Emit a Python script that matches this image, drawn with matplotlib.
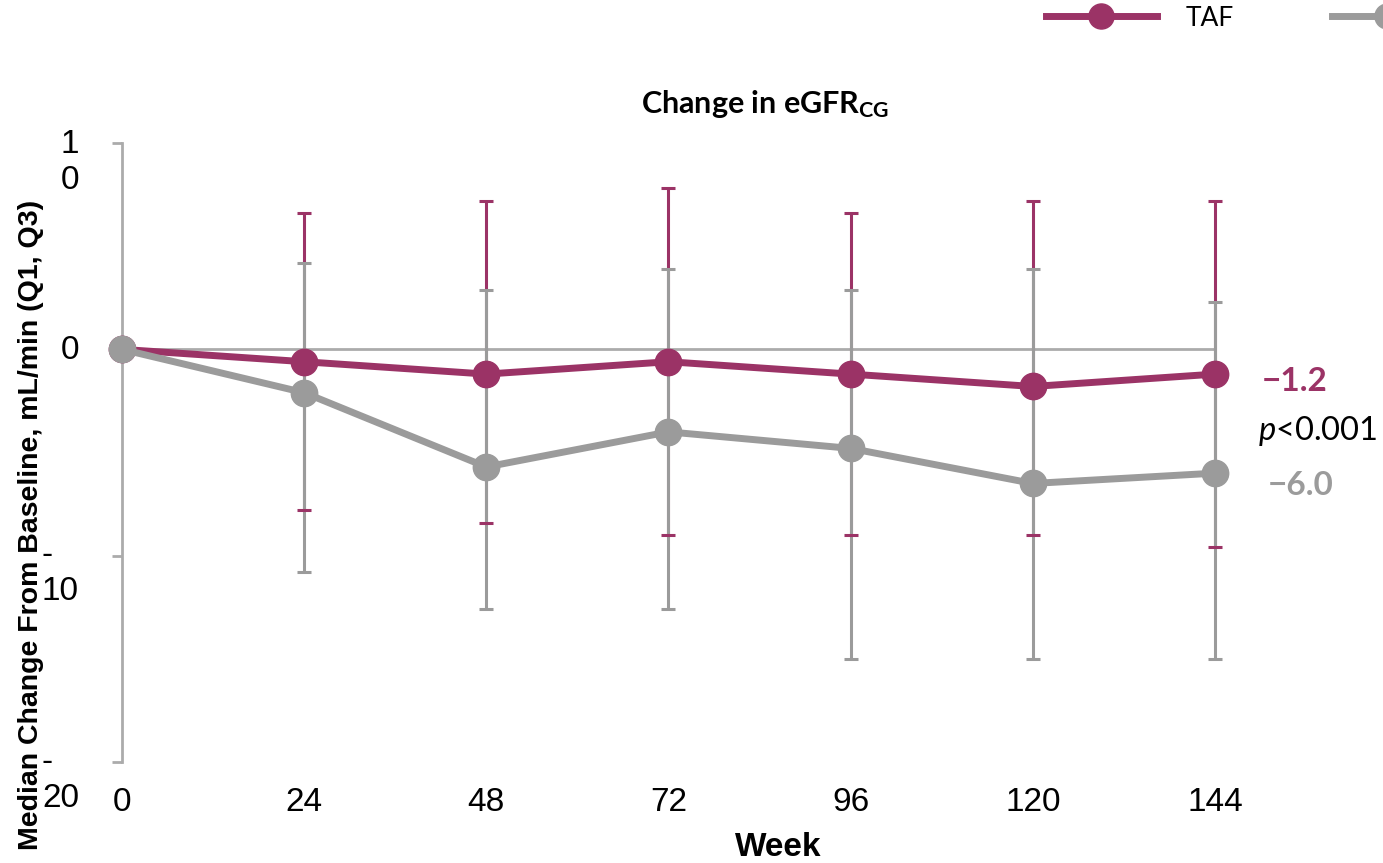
import numpy as np
import matplotlib.pyplot as plt

plt.rcParams['font.family'] = ['Liberation Sans', 'DejaVu Sans']
plt.rcParams['mathtext.fontset'] = 'custom'
plt.rcParams['mathtext.rm'] = 'Lato'
plt.rcParams['mathtext.bf'] = 'Lato:bold'
plt.rcParams['mathtext.it'] = 'Lato:italic'

weeks = [0, 24, 48, 72, 96, 120, 144]

# median change from baseline with Q1/Q3
taf_med = [0, -0.6, -1.2, -0.6, -1.2, -1.8, -1.2]
taf_q1 = [0, -7.8, -8.4, -9.0, -9.0, -9.0, -9.6]
taf_q3 = [0, 6.6, 7.2, 7.8, 6.6, 7.2, 7.2]

tdf_med = [0, -2.1, -5.7, -4.0, -4.8, -6.5, -6.0]
tdf_q1 = [0, -10.8, -12.6, -12.6, -15.0, -15.0, -15.0]
tdf_q3 = [0, 4.2, 2.9, 3.9, 2.9, 3.9, 2.3]

yticks = [-20, -10, 0, 10]
ytick_labels = ['-\n20', '-\n10', '0', '1\n0']

taf_col = '#9b3366'
tdf_col = '#9b9b9b'
axis_col = '#ababab'

fig = plt.figure(figsize=(13.83, 8.63), dpi=100)
ax = fig.add_axes([0.0882, 0.1170, 0.7903, 0.7173])

ax.axhline(0, color=axis_col, lw=2, zorder=1)

def draw(x, med, q1, q3, col, name, z):
    med = np.array(med)
    err = [med - np.array(q1), np.array(q3) - med]
    idx = slice(1, None)
    eb = ax.errorbar(np.array(x)[idx], med[idx],
                     yerr=[err[0][idx], err[1][idx]],
                     fmt='none', ecolor=col, elinewidth=2.2,
                     capsize=4.8, capthick=2.2, zorder=z)
    for c in eb[1]:
        c.set_zorder(z + 2)
        c.set_clip_on(False)
    for b in eb[2]:
        b.set_clip_on(False)
    line, = ax.plot(x, med, color=col, lw=5, marker='o', markersize=19,
                    label=name, zorder=z + 5, clip_on=False)
    return line

l1 = draw(weeks, taf_med, taf_q1, taf_q3, taf_col, 'TAF', 2)
l2 = draw(weeks, tdf_med, tdf_q1, tdf_q3, tdf_col, 'TDF', 3)

ax.set_xlim(0, 144)
ax.set_ylim(-20, 10)

for s in ['top', 'right', 'bottom']:
    ax.spines[s].set_visible(False)
ax.spines['left'].set_color(axis_col)
ax.spines['left'].set_linewidth(2)

ax.set_xticks(weeks)
ax.set_xticklabels([str(w) for w in weeks], fontsize=24)
ax.tick_params(axis='x', length=0, pad=18)

ax.set_yticks(yticks)
ax.set_yticklabels([])
ax.tick_params(axis='y', length=7, width=2, color=axis_col)
for v, lab in zip(yticks, ytick_labels):
    dy = 11 if lab.startswith('-') else 10
    ax.annotate(lab, xy=(0, v), xycoords=('axes fraction', 'data'),
                xytext=(-31, dy), textcoords='offset points',
                ha='right', va='top', multialignment='left',
                fontsize=24, linespacing=1.2)

fig.text(0.0225, 1 - 525 / 863, 'Median Change From Baseline, mL/min (Q1, Q3)',
         rotation=90, ha='center', va='center', fontsize=20.5, fontweight='bold')
fig.text(778 / 1383, 1 - 847 / 863, 'Week', ha='center', va='center',
         fontsize=24, fontweight='bold')
fig.text(765 / 1383, 1 - 104 / 863, r'Change in eGFR$_\mathbf{CG}$',
         ha='center', va='center', fontsize=22, fontweight='bold',
         family='Lato')

# end-of-study values
ax.annotate('\u22121.2', xy=(weeks[-1], taf_med[-1]), xytext=(34, -5),
            textcoords='offset points', ha='left', va='center',
            fontsize=24, fontweight='bold', color=taf_col, family='Lato')
ax.annotate(r'$\mathit{p}$<0.001', xy=(weeks[-1], (taf_med[-1] + tdf_med[-1]) / 2),
            xytext=(31, -5), textcoords='offset points', ha='left', va='center',
            fontsize=23.5, family='Lato')
ax.annotate('\u22126.0', xy=(weeks[-1], tdf_med[-1]), xytext=(38, -9),
            textcoords='offset points', ha='left', va='center',
            fontsize=24, fontweight='bold', color=tdf_col, family='Lato')

leg = ax.legend(handles=[l1, l2], loc='center left', ncol=2, frameon=False,
                bbox_to_anchor=(1046 / 1383, 1 - 18 / 863),
                bbox_transform=fig.transFigure, borderpad=0, borderaxespad=0,
                handlelength=4.2, handletextpad=1.1, columnspacing=3.7,
                markerscale=0.95, prop={'family': 'Lato', 'size': 19})

fig.savefig('out.png', dpi=100)
